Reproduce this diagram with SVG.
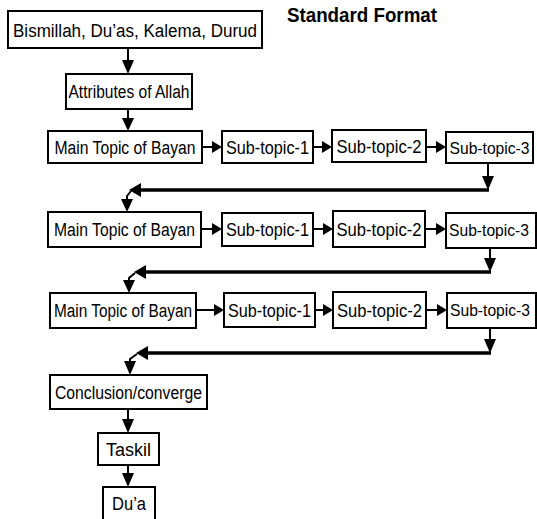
<svg xmlns="http://www.w3.org/2000/svg" width="537" height="519" viewBox="0 0 537 519">
<style>
.box{fill:#fff;stroke:#000;stroke-width:2}
.t{font-family:"Liberation Sans",Arial,sans-serif;font-size:18px;fill:#000;text-anchor:middle}
.t3{font-size:16.5px}
.ln{stroke:#000;stroke-width:2;fill:none}
.thick{stroke:#000;stroke-width:3.5;fill:none}
.ah{fill:#000;stroke:none}
.title{font-family:"Liberation Sans",Arial,sans-serif;font-size:20px;font-weight:bold;fill:#000}
</style>
<rect width="537" height="519" fill="#fff"/>
<text class="title" x="287" y="22" textLength="150" lengthAdjust="spacingAndGlyphs">Standard Format</text>
<g id="connectors">
<line class="ln" x1="128" y1="48" x2="128" y2="62"/><polygon class="ah" points="122,60 134,60 128,74"/>
<line class="ln" x1="128" y1="109" x2="128" y2="120"/><polygon class="ah" points="122,118 134,118 128,131"/>
<line class="ln" x1="202" y1="147" x2="214" y2="147"/><polygon class="ah" points="212,141 222,147 212,153"/>
<line class="ln" x1="313" y1="147" x2="324" y2="147"/><polygon class="ah" points="322,141 332,147 322,153"/>
<line class="ln" x1="426" y1="147" x2="438" y2="147"/><polygon class="ah" points="436,141 446,147 436,153"/>
<line class="ln" x1="201" y1="229" x2="214" y2="229"/><polygon class="ah" points="212,223 222,229 212,235"/>
<line class="ln" x1="313" y1="229" x2="325" y2="229"/><polygon class="ah" points="323,223 333,229 323,235"/>
<line class="ln" x1="425" y1="229" x2="438" y2="229"/><polygon class="ah" points="436,223 446,229 436,235"/>
<line class="ln" x1="196" y1="310" x2="215" y2="310"/><polygon class="ah" points="214,304 224,310 214,316"/>
<line class="ln" x1="315" y1="310" x2="325" y2="310"/><polygon class="ah" points="323,304 333,310 323,316"/>
<line class="ln" x1="426" y1="310" x2="439" y2="310"/><polygon class="ah" points="437,304 447,310 437,316"/>
<line class="ln" x1="488" y1="162" x2="488" y2="179"/><polygon class="ah" points="482,176 494,176 488,190"/>
<line class="thick" x1="489" y1="190" x2="138" y2="190"/><polygon class="ah" points="129,190 141,183 141,197"/>
<polyline class="ln" points="131,191 127,196 127,201"/><polygon class="ah" points="121,199 133,199 127,212"/>
<line class="ln" x1="490" y1="248" x2="490" y2="261"/><polygon class="ah" points="484,258 496,258 490,272"/>
<line class="thick" x1="491" y1="272" x2="144" y2="272"/><polygon class="ah" points="134,272 146,265 146,279"/>
<polyline class="ln" points="135,273 129,278 129,282"/><polygon class="ah" points="123,280 135,280 129,293"/>
<line class="ln" x1="490" y1="328" x2="490" y2="342"/><polygon class="ah" points="484,339 496,339 490,353"/>
<line class="thick" x1="491" y1="353" x2="146" y2="353"/><polygon class="ah" points="136,353 148,346 148,360"/>
<polyline class="ln" points="137,354 130,359 130,363"/><polygon class="ah" points="124,361 136,361 130,375"/>
<line class="ln" x1="128" y1="409" x2="128" y2="421"/><polygon class="ah" points="122,419 134,419 128,433"/>
<line class="ln" x1="128" y1="465" x2="128" y2="475"/><polygon class="ah" points="122,473 134,473 128,487"/>
</g>
<g id="n-bismillah"><rect class="box" x="8" y="11" width="254" height="37"/><text class="t" x="135" y="37" font-size="21" textLength="244" lengthAdjust="spacingAndGlyphs">Bismillah, Du’as, Kalema, Durud</text></g>
<g id="n-attributes"><rect class="box" x="66" y="74" width="126" height="35"/><text class="t" x="129" y="98" textLength="121" lengthAdjust="spacingAndGlyphs">Attributes of Allah</text></g>
<g id="n-main1"><rect class="box" x="48" y="131" width="154" height="32"/><text class="t" x="125" y="154" textLength="141" lengthAdjust="spacingAndGlyphs">Main Topic of Bayan</text></g>
<g id="n-sub11"><rect class="box" x="222" y="131" width="91" height="32"/><text class="t" x="267.5" y="154" textLength="83" lengthAdjust="spacingAndGlyphs">Sub-topic-1</text></g>
<g id="n-sub12"><rect class="box" x="332" y="130" width="94" height="32"/><text class="t" x="379" y="153" textLength="85" lengthAdjust="spacingAndGlyphs">Sub-topic-2</text></g>
<g id="n-sub13"><rect class="box" x="446" y="132" width="87" height="31"/><text class="t t3" x="489.5" y="154" textLength="80" lengthAdjust="spacingAndGlyphs">Sub-topic-3</text></g>
<g id="n-main2"><rect class="box" x="48" y="212" width="153" height="35"/><text class="t" x="124.5" y="236" textLength="141" lengthAdjust="spacingAndGlyphs">Main Topic of Bayan</text></g>
<g id="n-sub21"><rect class="box" x="222" y="213" width="91" height="33"/><text class="t" x="267.5" y="236" textLength="83" lengthAdjust="spacingAndGlyphs">Sub-topic-1</text></g>
<g id="n-sub22"><rect class="box" x="333" y="211" width="92" height="36"/><text class="t" x="379" y="236" textLength="85" lengthAdjust="spacingAndGlyphs">Sub-topic-2</text></g>
<g id="n-sub23"><rect class="box" x="446" y="213" width="90" height="35"/><text class="t t3" x="489" y="236" textLength="80" lengthAdjust="spacingAndGlyphs">Sub-topic-3</text></g>
<g id="n-main3"><rect class="box" x="50" y="293" width="146" height="35"/><text class="t" x="123" y="317" textLength="138" lengthAdjust="spacingAndGlyphs">Main Topic of Bayan</text></g>
<g id="n-sub31"><rect class="box" x="224" y="293" width="91" height="34"/><text class="t" x="269.5" y="317" textLength="83" lengthAdjust="spacingAndGlyphs">Sub-topic-1</text></g>
<g id="n-sub32"><rect class="box" x="333" y="292" width="93" height="36"/><text class="t" x="379.5" y="317" textLength="85" lengthAdjust="spacingAndGlyphs">Sub-topic-2</text></g>
<g id="n-sub33"><rect class="box" x="447" y="293" width="89" height="35"/><text class="t t3" x="490" y="316" textLength="80" lengthAdjust="spacingAndGlyphs">Sub-topic-3</text></g>
<g id="n-conclusion"><rect class="box" x="50" y="375" width="157" height="34"/><text class="t" x="128.5" y="399" textLength="147" lengthAdjust="spacingAndGlyphs">Conclusion/converge</text></g>
<g id="n-taskil"><rect class="box" x="98" y="433" width="61" height="32"/><text class="t" x="128.5" y="456" textLength="45" lengthAdjust="spacingAndGlyphs">Taskil</text></g>
<g id="n-dua"><rect class="box" x="103" y="487" width="52" height="40"/><text class="t" x="129" y="510" textLength="34" lengthAdjust="spacingAndGlyphs">Du’a</text></g>
</svg>
